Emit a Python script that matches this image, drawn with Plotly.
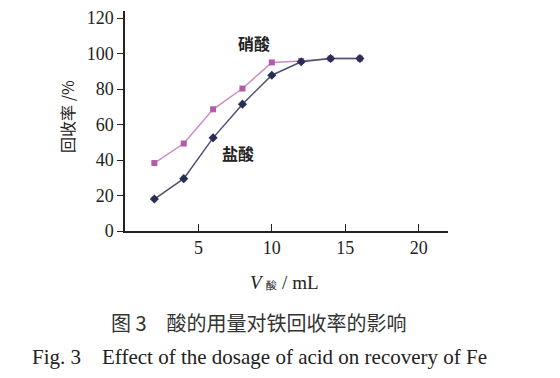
import plotly.graph_objects as go

volumes = [2, 4, 6, 8, 10, 12, 14, 16]
hcl_recovery = [18, 29.5, 52.5, 71.5, 87.8, 95.4, 97.2, 97.2]
hno3_recovery = [38.3, 49.3, 68.6, 80.3, 95.0, 95.8, 97.2, 97.2]
x_ticks = [5, 10, 15, 20]
y_ticks = [0, 20, 40, 60, 80, 100, 120]

serif = "Liberation Serif, Times New Roman, serif"
cjk = "Noto Sans CJK SC, sans-serif"

fig = go.Figure()
fig.add_trace(go.Scatter(
    x=volumes, y=hno3_recovery, mode="lines+markers", name="硝酸",
    line=dict(color="#c88cc3", width=1.5),
    marker=dict(symbol="square", size=6, color="#b45aa8"),
))
fig.add_trace(go.Scatter(
    x=volumes, y=hcl_recovery, mode="lines+markers", name="盐酸",
    line=dict(color="#4d5170", width=1.5),
    marker=dict(symbol="diamond", size=7, color="#2a2d55"),
))

fig.update_layout(
    width=552, height=370,
    margin=dict(l=117, r=112, t=0, b=147),
    paper_bgcolor="white", plot_bgcolor="white",
    showlegend=False,
    font=dict(family=serif, size=17, color="#222"),
    xaxis=dict(range=[0, 22], tickvals=x_ticks, ticks="inside", ticklen=7,
               tickcolor="#222", showline=True, linecolor="#222", linewidth=1.5,
               showgrid=False, zeroline=False,
               tickfont=dict(family=serif, size=18, color="#222")),
    yaxis=dict(range=[0, 124], tickvals=y_ticks, ticks="outside", ticklen=6,
               tickcolor="#222", showline=True, linecolor="#222", linewidth=1.5,
               showgrid=False, zeroline=False, ticklabeloverflow="allow",
               tickfont=dict(family=serif, size=18, color="#222")),
    annotations=[
        dict(x=8.8, y=106, text="<b>硝酸</b>", showarrow=False,
             font=dict(family=cjk, size=16, color="#222")),
        dict(x=7.7, y=44, text="<b>盐酸</b>", showarrow=False,
             font=dict(family=cjk, size=16, color="#222")),
        dict(xref="paper", yref="paper", x=-0.225, y=0.52, text="回收率 /%",
             textangle=-90, showarrow=False,
             font=dict(family=cjk, size=16, color="#222")),
        dict(xref="paper", yref="paper", x=0.495, y=-0.29,
             text="<i>V</i> <span style='font-size:11px'>酸</span> / mL",
             showarrow=False,
             font=dict(family=serif, size=19, color="#222")),
        dict(xref="paper", yref="paper", x=0.415, y=-0.49,
             text="图 3　酸的用量对铁回收率的影响", showarrow=False,
             font=dict(family=cjk, size=20, color="#333")),
        dict(xref="paper", yref="paper", x=0.415, y=-0.635,
             text="Fig. 3　Effect of the dosage of acid on recovery of Fe",
             showarrow=False,
             font=dict(family=serif, size=21, color="#222")),
    ],
)

fig.write_html("out.html")
